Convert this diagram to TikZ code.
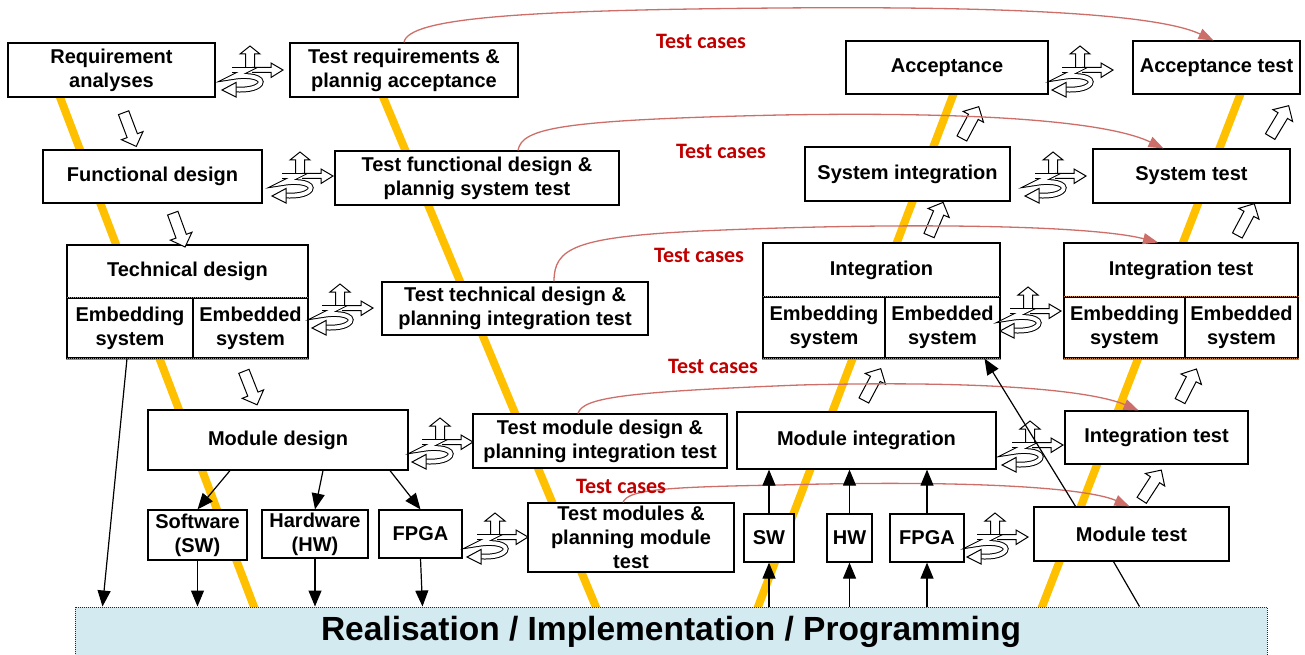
\documentclass[tikz,border=0pt]{standalone}
\usepackage{fontspec}
\setmainfont{Liberation Sans}
\newfontfamily\redfont{Carlito}
\usetikzlibrary{arrows.meta,shapes.arrows,calc}
\definecolor{vyellow}{HTML}{FFC000}
\definecolor{tcred}{HTML}{C00000}
\definecolor{curvered}{RGB}{205,110,105}
\definecolor{barblue}{RGB}{210,234,240}
\definecolor{embor}{RGB}{205,125,60}
\tikzset{
  curly/.pic={
    \draw[fill=white, line width=1pt] (-4.5,3) -- (-4.5,-14) -- (-10,-14) -- (0,-22) -- (10,-14) -- (4.5,-14) -- (4.5,3);
    \draw[fill=white, line width=1pt] (2,-0.5) -- (21,-0.5) -- (21,-5) -- (33,2) -- (21,9.5) -- (21,4.5) -- (2,4.5);
    \draw[line width=1pt, double=white, double distance=3.8pt] (-18,2) -- (-3,2) -- (-17,9) .. controls (0,6) and (14,10) .. (10,16) .. controls (6,21) and (-5,22) .. (-14,21.5);
    \draw[fill=white, line width=1pt] (-14,14.5) -- (-28,22) -- (-14,29) -- cycle;
  }
}
\begin{document}
\begin{tikzpicture}[x=1pt,y=-1pt,
  box/.style={draw, line width=1.2pt, fill=white, align=center, inner sep=1pt, font=\fontsize{20}{24}\selectfont\bfseries},
  vline/.style={vyellow, line width=8pt},
  fat/.style={single arrow, draw, fill=white, line width=1pt, inner sep=5pt, single arrow head extend=6pt, minimum height=36pt, single arrow head indent=0pt},
  tc/.style={curvered, line width=1.3pt, -{Triangle[length=15pt,width=11pt]}},
  tclabel/.style={text=tcred, font=\redfont\fontsize{22}{24}\selectfont\bfseries, inner sep=0pt},
  arr/.style={line width=1.2pt, -{Triangle[length=16pt,width=13pt]}},
  thinline/.style={line width=1.2pt},
  emb/.style={embor, line width=1.8pt},
  embdot/.style={black, densely dotted, line width=1pt},
  bar/.style={draw=black!85, densely dotted, line width=1pt, fill=barblue, font=\fontsize{33.5}{36}\selectfont\bfseries}
]
\useasboundingbox (0,0) rectangle (1305,655);

% yellow V lines
\draw[vline] (58,92) -- (256,612);
\draw[vline] (381,92) -- (598,612);
\draw[vline] (756,612) -- (955,90);
\draw[vline] (1040,612) -- (1242,90);

% left (design) column
\node[box, minimum width=207pt, minimum height=54pt] (req) at (111.5,70) {Requirement\\analyses};
\node[box, minimum width=219pt, minimum height=53pt] (fun) at (152.5,176.5) {Functional design};
\node[box, minimum width=241pt, minimum height=53pt] (tech) at (187.5,271.5) {Technical design};
\node[box, minimum width=126pt, minimum height=60pt] (embL) at (130,328) {Embedding\\system};
\node[box, minimum width=115pt, minimum height=60pt] (embR) at (250.5,328) {Embedded\\system};
\node[box, minimum width=260pt, minimum height=60pt] (mod) at (278,440) {Module design};
\node[box, minimum width=99pt, minimum height=50pt] (sw) at (197.5,535) {Software\\(SW)};
\node[box, minimum width=106pt, minimum height=48pt] (hw) at (315,534) {Hardware\\(HW)};
\node[box, minimum width=83pt, minimum height=48pt] (fpga) at (420.5,534) {FPGA};

% test planning column
\node[box, minimum width=228pt, minimum height=54pt] (treq) at (404,70) {Test requirements \&\\plannig acceptance};
\node[box, minimum width=284pt, minimum height=54pt] (tfun) at (477,178) {Test functional design \&\\plannig system test};
\node[box, minimum width=266pt, minimum height=53pt] (ttech) at (515,308.5) {Test technical design \&\\planning integration test};
\node[box, minimum width=254pt, minimum height=54pt] (tmod) at (600,441) {Test module design \&\\planning integration test};
\node[box, minimum width=206pt, minimum height=69pt] (tmods) at (631,537.5) {Test modules \&\\planning module\\test};

% right side
\node[box, minimum width=202pt, minimum height=53pt] (acc) at (947,67.5) {Acceptance};
\node[box, minimum width=167pt, minimum height=53pt] (acct) at (1216.5,67.5) {Acceptance test};
\node[box, minimum width=205pt, minimum height=54pt] (sysint) at (907.5,174) {System integration};
\node[box, minimum width=197pt, minimum height=54pt] (syst) at (1191.5,176) {System test};
\node[box, minimum width=237pt, minimum height=54pt] (integ) at (881.5,270) {Integration};
\node[box, minimum width=122pt, minimum height=61pt] (embL2) at (824,327.5) {Embedding\\system};
\node[box, minimum width=115pt, minimum height=61pt] (embR2) at (942.5,327.5) {Embedded\\system};
\node[box, minimum width=234pt, minimum height=54pt] (integt) at (1181,270) {Integration test};
\node[box, minimum width=121pt, minimum height=61pt] (embL3) at (1124.5,327.5) {Embedding\\system};
\node[box, minimum width=113pt, minimum height=61pt] (embR3) at (1241.5,327.5) {Embedded\\system};
\node[box, minimum width=259pt, minimum height=57pt] (modint) at (866.5,440.5) {Module integration};
\node[box, minimum width=183pt, minimum height=53pt] (intt2) at (1156.5,437.5) {Integration test};
\node[box, minimum width=50pt, minimum height=48pt] (sw2) at (769,538) {SW};
\node[box, minimum width=45pt, minimum height=48pt] (hw2) at (849.5,538) {HW};
\node[box, minimum width=74pt, minimum height=48pt] (fpga2) at (927,538) {FPGA};
\node[box, minimum width=195pt, minimum height=54pt] (modt) at (1131.5,534) {Module test};

% dotted borders of the embedding rows
\foreach \l/\r in {embL/embR, embL2/embR2, embL3/embR3}{
  \draw[emb] (\l.north west) -- (\r.north east);
  \draw[embdot] (\l.north west) -- (\r.north east);
  \draw[emb] (\l.south west) -- (\r.south east);
  \draw[embdot] (\l.south west) -- (\r.south east);
}

% realisation bar
\node[bar, minimum width=1192pt, minimum height=50pt] (real) at (671,632) {Realisation / Implementation / Programming};

% hollow block arrows
\node[fat, rotate=-69.4] (a1) at (129,127) {};
\node[fat, rotate=-70] (a2) at (178,227.5) {};
\node[fat, rotate=-68.5] (a3) at (249.5,385.5) {};
\node[fat, rotate=62] (b1) at (871,387) {};
\node[fat, rotate=67] (b2) at (935,221.5) {};
\node[fat, rotate=62] (b3) at (969,125) {};
\node[fat, rotate=57] (b4) at (1150,487.5) {};
\node[fat, rotate=63] (b5) at (1187,387.5) {};
\node[fat, rotate=62] (b6) at (1244.5,222) {};
\node[fat, rotate=59] (b7) at (1278,123.5) {};

% curly feedback icons
\pic at (250,68) {curly};
\pic at (300,174) {curly};
\pic at (340,306) {curly};
\pic at (440,440) {curly};
\pic at (495,535) {curly};
\pic at (1080,68) {curly};
\pic at (1053,174) {curly};
\pic at (1028,309) {curly};
\pic at (1030,443) {curly};
\pic at (995,535) {curly};

% test case curves
\draw[tc] (treq.north) .. controls (408,18) and (520,10) .. (780,8) .. controls (1020,6) and (1160,15) .. ([xshift=-3pt]acct.north);
\draw[tc] ([xshift=41pt]tfun.north) .. controls (522,128) and (560,120) .. (780,115) .. controls (1010,111) and (1115,125) .. ([xshift=-28pt]syst.north);
\draw[tc] ([xshift=39pt]ttech.north) .. controls (554,248) and (575,237) .. (700,231) .. controls (900,222) and (1090,225) .. ([xshift=-23pt]integt.north);
\draw[tc] ([xshift=-22pt]tmod.north) .. controls (583,398) and (620,392) .. (800,385) .. controls (1000,380) and (1095,392) .. ([xshift=-18pt]intt2.north);
\draw[tc] ([xshift=-8pt]tmods.north) .. controls (628,490) and (660,487) .. (780,485) .. controls (960,480) and (1085,487) .. ([xshift=-2pt]modt.north);

\node[tclabel] (l1) at (701,41) {Test cases};
\node[tclabel] (l2) at (721,151) {Test cases};
\node[tclabel] (l3) at (699,255) {Test cases};
\node[tclabel] (l4) at (713,366) {Test cases};
\node[tclabel] (l5) at (621,486) {Test cases};

% black connectors, left
\draw[arr] ([xshift=-3pt]embL.south) -- ([xshift=28pt]real.north west);
\draw[arr] ([xshift=-48pt]mod.south) -- (sw.north);
\draw[arr] ([xshift=45pt]mod.south) -- (hw.north);
\draw[arr] ([xshift=112pt]mod.south) -- (fpga.north);
\draw[arr] (sw.south) -- (sw.south |- real.north);
\draw[arr] (hw.south) -- (hw.south |- real.north);
\draw[arr] (fpga.south) -- ([xshift=2pt]fpga.south |- real.north);

% black connectors, right
\draw[arr] (sw2.south |- real.north) -- (sw2.south);
\draw[arr] (sw2.north) -- (sw2.north |- modint.south);
\draw[arr] (hw2.south |- real.north) -- (hw2.south);
\draw[arr] (hw2.north) -- (hw2.north |- modint.south);
\draw[arr] (fpga2.south |- real.north) -- (fpga2.south);
\draw[arr] (fpga2.north) -- (fpga2.north |- modint.south);
\draw[thinline] ([xshift=1065pt]real.north west) -- ([xshift=-18pt]modt.south);
\draw[arr] ([xshift=-56pt]modt.north) -- ([xshift=42pt]embR2.south);
\end{tikzpicture}
\end{document}
